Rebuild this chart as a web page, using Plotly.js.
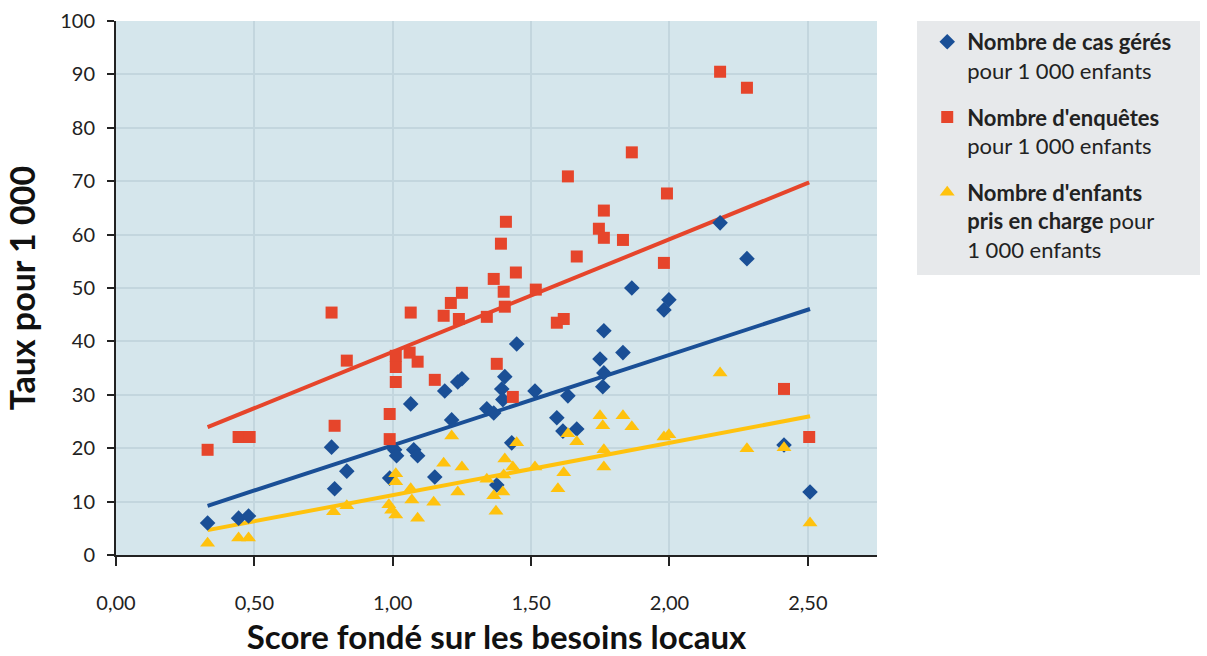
<!DOCTYPE html>
<html>
<head>
<meta charset="utf-8">
<script src="https://cdn.plot.ly/plotly-3.0.1.min.js"></script>
<style>html,body{margin:0;padding:0;background:#fff;}#chart{width:1207px;height:656px;}</style>
</head>
<body>
<div id="chart"></div>
<script>
// Nombre de cas gérés pour 1 000 enfants
const casX = [0.331,0.443,0.479,0.779,0.834,0.790,0.989,1.007,1.014,1.065,1.076,1.090,1.152,1.188,1.235,1.250,1.213,1.340,1.365,1.376,1.405,1.394,1.398,1.430,1.448,1.514,1.593,1.615,1.633,1.665,1.749,1.763,1.763,1.759,1.832,1.864,1.980,1.998,2.183,2.280,2.414,2.508];
const casY = [6.0,6.9,7.3,20.2,15.7,12.4,14.4,19.7,18.6,28.3,19.7,18.6,14.6,30.7,32.4,33.0,25.3,27.4,26.6,13.1,33.4,31.1,29.1,21.0,39.5,30.7,25.7,23.2,29.8,23.6,36.7,42.0,34.1,31.5,37.9,50.0,45.9,47.8,62.2,55.5,20.6,11.8];

// Nombre d'enquêtes pour 1 000 enfants
const enqX = [0.331,0.443,0.483,0.779,0.790,0.834,0.989,0.989,1.011,1.011,1.011,1.065,1.061,1.090,1.152,1.184,1.210,1.250,1.239,1.340,1.365,1.376,1.391,1.409,1.401,1.405,1.434,1.445,1.517,1.593,1.618,1.633,1.665,1.745,1.763,1.763,1.832,1.864,1.980,1.991,2.183,2.280,2.414,2.505];
const enqY = [19.7,22.1,22.1,45.4,24.2,36.4,26.4,21.7,37.3,35.2,32.4,45.4,37.9,36.2,32.8,44.8,47.2,49.1,44.2,44.6,51.7,35.8,58.3,62.4,49.3,46.5,29.6,52.9,49.7,43.5,44.2,70.9,55.9,61.1,64.5,59.4,59.0,75.4,54.7,67.7,90.5,87.5,31.1,22.1];

// Nombre d'enfants pris en charge pour 1 000 enfants
const priseX = [0.331,0.443,0.479,0.786,0.834,0.986,0.996,1.011,1.011,1.011,1.065,1.069,1.090,1.148,1.184,1.213,1.250,1.235,1.340,1.365,1.373,1.398,1.405,1.401,1.434,1.448,1.514,1.597,1.618,1.633,1.665,1.749,1.759,1.763,1.763,1.832,1.864,1.980,1.998,2.183,2.280,2.414,2.508];
const priseY = [2.2,3.2,3.2,8.1,9.2,9.4,8.4,7.5,15.2,13.7,12.4,10.3,6.9,9.9,17.2,22.3,16.5,11.8,14.2,11.1,8.2,11.8,18.0,15.0,16.5,21.0,16.5,12.4,15.4,22.7,21.2,26.1,24.2,19.7,16.5,26.1,24.0,22.1,22.5,34.1,19.9,20.1,6.0];

const xTickVals = [0, 0.5, 1, 1.5, 2, 2.5];
const yTickVals = [0,10,20,30,40,50,60,70,80,90,100];

const BLUE = '#1a4f96', RED = '#e6452b', YEL = '#ffc20e';
const FONT = 'Lato, "Open Sans", sans-serif';

function linfit(xs, ys) {
  const n = xs.length;
  let sx=0, sy=0, sxx=0, sxy=0;
  for (let i=0;i<n;i++){sx+=xs[i];sy+=ys[i];sxx+=xs[i]*xs[i];sxy+=xs[i]*ys[i];}
  const b = (n*sxy - sx*sy)/(n*sxx - sx*sx);
  const a = (sy - b*sx)/n;
  const x0 = Math.min(...xs), x1 = Math.max(...xs);
  return {x:[x0,x1], y:[a+b*x0, a+b*x1]};
}

const tCas = linfit(casX, casY), tEnq = linfit(enqX, enqY), tPr = linfit(priseX, priseY);

const traces = [
  {x:tEnq.x, y:tEnq.y, mode:'lines', line:{color:RED, width:4}, showlegend:false, hoverinfo:'skip'},
  {x:tCas.x, y:tCas.y, mode:'lines', line:{color:BLUE, width:4}, showlegend:false, hoverinfo:'skip'},
  {x:tPr.x, y:tPr.y, mode:'lines', line:{color:YEL, width:4}, showlegend:false, hoverinfo:'skip'},
  {x:casX, y:casY, mode:'markers', name:'<b>Nombre de cas gérés</b><br>pour 1 000 enfants', legendgroup:'a',
   marker:{symbol:'diamond', size:12, color:BLUE}},
  {x:enqX, y:enqY, mode:'markers', name:"<b>Nombre d'enquêtes</b><br>pour 1 000 enfants", legendgroup:'b',
   marker:{symbol:'square', size:12, color:RED}},
  {x:priseX, y:priseY, mode:'markers', name:"<b>Nombre d'enfants<br>pris en charge</b> pour<br>1 000 enfants", legendgroup:'c',
   marker:{symbol:'triangle-up', size:13, color:YEL}}
];

const layout = {
  width:1207, height:656,
  margin:{l:116, r:330, t:21, b:101},
  paper_bgcolor:'#ffffff', plot_bgcolor:'#d5e6ec',
  separators:', ',
  font:{family:FONT, size:20, color:'#222'},
  xaxis:{range:[0,2.75], tickvals:xTickVals, tickformat:'.2f', showgrid:true, gridcolor:'#c3d6de', gridwidth:2,
    zeroline:false, showline:true, linecolor:'#222', linewidth:2, ticks:'outside', ticklen:9, tickwidth:2, tickcolor:'#222',
    ticklabelstandoff:20, tickfont:{size:20, color:'#222'},
    title:{text:'<b>Score fondé sur les besoins locaux</b>', font:{size:33, color:'#111'}, standoff:15}},
  yaxis:{range:[0,100], tickvals:yTickVals, showgrid:true, gridcolor:'#c3d6de', gridwidth:2,
    zeroline:false, showline:true, linecolor:'#222', linewidth:2, ticks:'outside', ticklen:7, tickwidth:2, tickcolor:'#222',
    ticklabelstandoff:8, tickfont:{size:20, color:'#222'},
    title:{text:'<b>Taux pour 1 000</b>', font:{size:34, color:'#111'}, standoff:14}},
  shapes:[{type:'rect', xref:'paper', yref:'paper', x0:1.0526, x1:1.4244, y0:0.5243, y1:1.0,
    fillcolor:'#e7e9eb', line:{width:0}, layer:'below'}],
  legend:{x:1.066, y:1.0, xanchor:'left', yanchor:'top', bgcolor:'rgba(0,0,0,0)', borderwidth:0, valign:'top',
    font:{size:22, color:'#222', family:FONT}, tracegroupgap:15, itemwidth:30, traceorder:'grouped'},
  showlegend:true
};

Plotly.newPlot('chart', traces, layout, {displayModeBar:false, staticPlot:true});
</script>
</body>
</html>
